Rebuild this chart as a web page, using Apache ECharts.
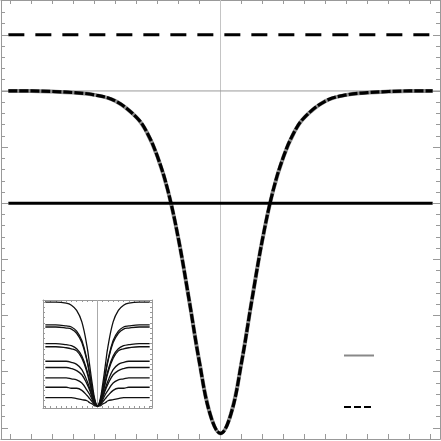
<!DOCTYPE html>
<html>
<head>
<meta charset="utf-8">
<script src="https://cdn.jsdelivr.net/npm/echarts@6/dist/echarts.min.js"></script>
<style>
  html, body { margin: 0; padding: 0; background: #fff; }
  #chart { width: 441px; height: 441px; }
</style>
</head>
<body>
<div id="chart"></div>
<script>
// main curve
const mainX = [-10.1, -9, -8, -7, -6, -5, -4, -3.5, -3, -2.5, -2, -1.5, -1, -0.5, 0,
  0.5, 1, 1.5, 2, 2.5, 3, 3.5, 4, 5, 6, 7, 8, 9, 10.1]
const mainY = [6.00, 6.00, 5.99, 5.97, 5.93, 5.82, 5.53, 5.26, 4.83, 4.22, 3.36, 2.29, 1.16, 0.25, -0.10,
  0.25, 1.16, 2.29, 3.36, 4.22, 4.83, 5.26, 5.53, 5.82, 5.93, 5.97, 5.99, 6.00, 6.00]

const baseLevel = 6
const dashedLevel = 7
const solidLevel = 4
const lineSpan = [-10.1, 10.1]

// frame ticks
const xTicks = [-10, -9, -8, -7, -6, -5, -4, -3, -2, -1, 0, 1, 2, 3, 4, 5, 6, 7, 8, 9, 10]
const yMajorTicks = [0, 1, 2, 3, 4, 5, 6, 7]
const yMinorTicks = [0, 0.2, 0.4, 0.6, 0.8, 1, 1.2, 1.4, 1.6, 1.8, 2, 2.2, 2.4, 2.6, 2.8,
  3, 3.2, 3.4, 3.6, 3.8, 4, 4.2, 4.4, 4.6, 4.8, 5, 5.2, 5.4, 5.6, 5.8,
  6, 6.2, 6.4, 6.6, 6.8, 7, 7.2, 7.4]

// inset
const insetX = [-10, -8, -6, -5, -4, -3, -2, -1.5, -1, -0.5, 0, 0.5, 1, 1.5, 2, 3, 4, 5, 6, 8, 10]
const insetCurves = [
  [1.00, 1.00, 0.99, 0.97, 0.92, 0.81, 0.57, 0.39, 0.21, 0.06, 0, 0.06, 0.21, 0.39, 0.57, 0.81, 0.92, 0.97, 0.99, 1.00, 1.00],
  [0.78, 0.78, 0.77, 0.76, 0.72, 0.63, 0.44, 0.31, 0.16, 0.05, 0, 0.05, 0.16, 0.31, 0.44, 0.63, 0.72, 0.76, 0.77, 0.78, 0.78],
  [0.76, 0.76, 0.75, 0.74, 0.70, 0.61, 0.43, 0.30, 0.16, 0.04, 0, 0.04, 0.16, 0.30, 0.43, 0.61, 0.70, 0.74, 0.75, 0.76, 0.76],
  [0.60, 0.60, 0.59, 0.58, 0.55, 0.48, 0.34, 0.24, 0.12, 0.03, 0, 0.03, 0.12, 0.24, 0.34, 0.48, 0.55, 0.58, 0.59, 0.60, 0.60],
  [0.57, 0.57, 0.56, 0.55, 0.53, 0.46, 0.32, 0.22, 0.12, 0.03, 0, 0.03, 0.12, 0.22, 0.32, 0.46, 0.53, 0.55, 0.56, 0.57, 0.57],
  [0.43, 0.43, 0.43, 0.42, 0.40, 0.35, 0.24, 0.17, 0.09, 0.02, 0, 0.02, 0.09, 0.17, 0.24, 0.35, 0.40, 0.42, 0.43, 0.43, 0.43],
  [0.37, 0.37, 0.37, 0.36, 0.34, 0.30, 0.21, 0.15, 0.08, 0.02, 0, 0.02, 0.08, 0.15, 0.21, 0.30, 0.34, 0.36, 0.37, 0.37, 0.37],
  [0.27, 0.27, 0.27, 0.26, 0.25, 0.22, 0.15, 0.11, 0.06, 0.02, 0, 0.02, 0.06, 0.11, 0.15, 0.22, 0.25, 0.26, 0.27, 0.27, 0.27],
  [0.18, 0.18, 0.18, 0.17, 0.17, 0.15, 0.10, 0.07, 0.04, 0.01, 0, 0.01, 0.04, 0.07, 0.10, 0.15, 0.17, 0.17, 0.18, 0.18, 0.18],
  [0.08, 0.08, 0.08, 0.08, 0.07, 0.06, 0.05, 0.03, 0.02, 0.00, 0, 0.00, 0.02, 0.03, 0.05, 0.06, 0.07, 0.08, 0.08, 0.08, 0.08]
]
const insetYTicks = [0, 0.05, 0.1, 0.15, 0.2, 0.25, 0.3, 0.35, 0.4, 0.45, 0.5,
  0.55, 0.6, 0.65, 0.7, 0.75, 0.8, 0.85, 0.9, 0.95, 1]

const frameColor = '#999'

function frameAxis(gridIndex, position, ticks, len, min, max) {
  return {
    type: 'value', gridIndex, position, min, max,
    axisLine: { show: true, onZero: false, lineStyle: { color: frameColor, width: 1 } },
    axisTick: { show: true, inside: true, length: len, customValues: ticks, lineStyle: { color: frameColor } },
    axisLabel: { show: false },
    splitLine: { show: false }
  }
}

function pairs(xs, ys) {
  return xs.map((x, i) => [x, ys[i]])
}

function flatLine(level, color, width, dash, z) {
  return {
    type: 'line', xAxisIndex: 0, yAxisIndex: 0, symbol: 'none', silent: true, z,
    data: [[lineSpan[0], level], [lineSpan[1], level]],
    lineStyle: { color, width, type: dash }
  }
}

const chart = echarts.init(document.getElementById('chart'))

chart.setOption({
  animation: false,
  backgroundColor: '#fff',
  grid: [
    { left: 1, top: 0, width: 439, height: 439 },
    { left: 43, top: 300, width: 109, height: 108, backgroundColor: '#fff', show: true, borderWidth: 0 }
  ],
  xAxis: [
    frameAxis(0, 'bottom', xTicks, 5, -10.45, 10.45),
    frameAxis(0, 'top', xTicks, 4, -10.45, 10.45),
    frameAxis(1, 'bottom', xTicks, 2, -10.45, 10.45),
    frameAxis(1, 'top', xTicks, 2, -10.45, 10.45)
  ],
  yAxis: [
    frameAxis(0, 'left', yMinorTicks, 4, -0.2, 7.62),
    frameAxis(0, 'left', yMajorTicks, 7, -0.2, 7.62),
    frameAxis(0, 'right', yMinorTicks, 4, -0.2, 7.62),
    frameAxis(0, 'right', yMajorTicks, 7, -0.2, 7.62),
    frameAxis(1, 'left', insetYTicks, 2, -0.02, 1.02),
    frameAxis(1, 'right', insetYTicks, 2, -0.02, 1.02)
  ],
  series: [
    {
      type: 'line', xAxisIndex: 0, yAxisIndex: 0, symbol: 'none', z: 1,
      data: [[0, -0.2], [0, 7.62]],
      lineStyle: { color: '#c4c4c4', width: 1 }
    },
    {
      type: 'line', xAxisIndex: 0, yAxisIndex: 0, symbol: 'none', z: 1,
      data: [[-10.45, baseLevel], [10.45, baseLevel]],
      lineStyle: { color: '#999', width: 1 }
    },
    {
      type: 'line', xAxisIndex: 0, yAxisIndex: 0, symbol: 'none', smooth: 0.4, z: 2,
      data: pairs(mainX, mainY),
      lineStyle: { color: '#8c8c8c', width: 4 }
    },
    {
      type: 'line', xAxisIndex: 0, yAxisIndex: 0, symbol: 'none', smooth: 0.4, z: 3,
      data: pairs(mainX, mainY),
      lineStyle: { color: '#000', width: 3.2, type: [9, 2] }
    },
    flatLine(dashedLevel, '#000', 3, [16, 11], 4),
    flatLine(solidLevel, '#000', 3, 'solid', 4),
    {
      type: 'line', xAxisIndex: 2, yAxisIndex: 4, symbol: 'none', z: 5,
      data: [[0, -0.02], [0, 1.02]],
      lineStyle: { color: '#aaa', width: 1 }
    },
    ...insetCurves.map(ys => ({
      type: 'line', xAxisIndex: 2, yAxisIndex: 4, symbol: 'none', smooth: 0.4, z: 6,
      data: pairs(insetX, ys),
      lineStyle: { color: '#111', width: 1.3 }
    }))
  ],
  graphic: [
    {
      type: 'line', z: 10,
      shape: { x1: 344, y1: 355.5, x2: 374, y2: 355.5 },
      style: { stroke: '#888', lineWidth: 2 }
    },
    {
      type: 'line', z: 10,
      shape: { x1: 344, y1: 407, x2: 374, y2: 407 },
      style: { stroke: '#000', lineWidth: 2, lineDash: [7, 3] }
    }
  ]
})
</script>
</body>
</html>
